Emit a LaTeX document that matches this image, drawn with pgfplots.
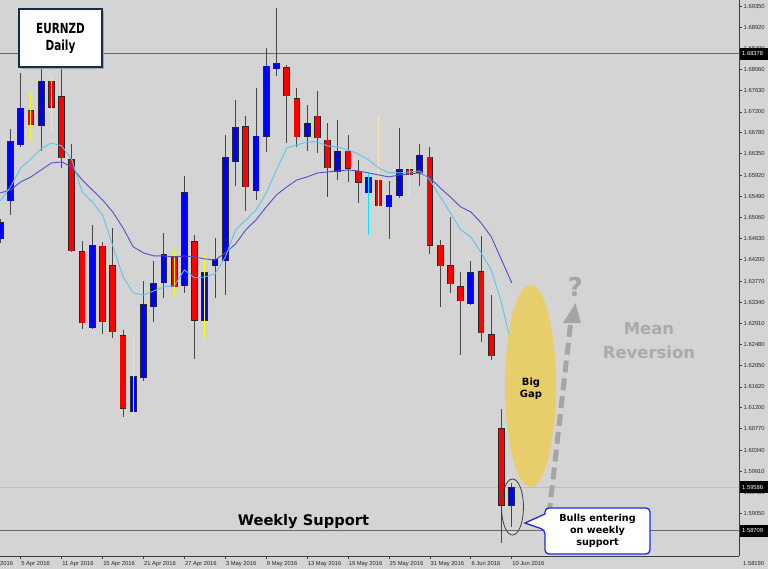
\documentclass[border=0pt]{standalone}
\usepackage{pgfplots}
\pgfplotsset{compat=1.18}
\usepackage{pgfplotstable}
\usepackage{fontspec}
\setmainfont{Liberation Sans}
\newfontfamily\annfont{DejaVu Sans}
\newfontfamily\titlefont[FakeStretch=0.75]{DejaVu Sans}

\definecolor{bg}{RGB}{212,212,212}
\definecolor{bullc}{RGB}{0,0,255}
\definecolor{bearc}{RGB}{255,0,0}
\definecolor{wickc}{RGB}{70,70,70}
\definecolor{bodyline}{RGB}{40,40,40}
\definecolor{cyanma}{RGB}{90,195,240}
\definecolor{bluema}{RGB}{80,80,210}
\definecolor{gapgold}{RGB}{232,206,106}
\definecolor{arrowgray}{RGB}{165,165,165}
\definecolor{meangray}{RGB}{170,170,170}
\definecolor{calloutblue}{RGB}{30,40,230}
\definecolor{navy}{RGB}{25,45,75}
\definecolor{lvldark}{RGB}{105,105,105}
\definecolor{lvllight}{RGB}{190,190,190}
\definecolor{axisc}{RGB}{60,60,60}
\definecolor{tickc}{RGB}{40,40,40}
\definecolor{peach}{RGB}{255,228,180}
\definecolor{yel}{RGB}{255,255,0}
\definecolor{cyw}{RGB}{0,235,255}

\newcommand\ticksz{\fontsize{5.8bp}{7bp}\selectfont}

% i open high low close
\pgfplotstableread{
i o h l c
0 1.64624 1.65030 1.64543 1.64949
1 1.65395 1.66855 1.65111 1.66592
2 1.66531 1.67991 1.66490 1.67281
4 1.66936 1.68154 1.66409 1.67829
9 1.62819 1.64908 1.62799 1.64482
13 1.61115 1.62657 1.61034 1.61825
14 1.61805 1.63772 1.61744 1.63285
15 1.63245 1.64178 1.62941 1.63711
16 1.63732 1.64746 1.63427 1.64300
18 1.63671 1.65902 1.63529 1.65557
20 1.62961 1.64300 1.62616 1.63935
21 1.64077 1.64644 1.63427 1.64218
22 1.64178 1.66734 1.63488 1.66267
23 1.66186 1.67444 1.65699 1.66876
25 1.65598 1.67687 1.65415 1.66713
26 1.66713 1.68498 1.66389 1.68133
27 1.68072 1.69310 1.67930 1.68174
30 1.66713 1.67342 1.66409 1.66977
33 1.66003 1.67038 1.65821 1.66409
36 1.65557 1.65963 1.64705 1.65861
38 1.65273 1.65801 1.64624 1.65496
39 1.65496 1.66876 1.65456 1.66024
41 1.65983 1.66551 1.65699 1.66328
46 1.63306 1.64178 1.63285 1.63935
50 1.59208 1.59675 1.58782 1.59586
}\bull

\pgfplotstableread{
i o h l c
3 1.67220 1.67586 1.66612 1.66936
5 1.67829 1.67951 1.66795 1.67302
6 1.67505 1.68072 1.66064 1.66267
7 1.66227 1.66551 1.64360 1.64381
8 1.64360 1.64584 1.62799 1.62920
10 1.64482 1.64563 1.62697 1.62941
11 1.64077 1.64847 1.62616 1.62738
12 1.62657 1.62778 1.61014 1.61176
17 1.64259 1.64401 1.63448 1.63651
19 1.64563 1.64705 1.62190 1.62961
24 1.66896 1.67119 1.65192 1.65679
28 1.68093 1.68154 1.66571 1.67525
29 1.67464 1.67687 1.66490 1.66693
31 1.67119 1.67626 1.66369 1.66673
32 1.66632 1.66977 1.65476 1.66064
34 1.66409 1.66734 1.65780 1.66064
35 1.66003 1.66227 1.65354 1.65780
37 1.65821 1.67119 1.65273 1.65294
40 1.66024 1.66267 1.65476 1.65922
42 1.66287 1.66490 1.64320 1.64502
43 1.64502 1.64604 1.63245 1.64077
44 1.64077 1.65070 1.63529 1.63711
45 1.63651 1.63955 1.62271 1.63366
47 1.63955 1.64685 1.62535 1.62717
48 1.62677 1.63488 1.62170 1.62251
49 1.60770 1.61176 1.58458 1.59208
}\bear

\pgfplotstableread{
i h l
3 1.67586 1.66612
5 1.67951 1.66795
13 1.62657 1.61034
17 1.64401 1.63448
20 1.64300 1.62616
40 1.66267 1.65476
}\yellowwicks

\pgfplotstableread{
i h l
36 1.65963 1.64705
}\cyanwicks

\pgfplotstableread{
i h l
37 1.67119 1.65273
}\peachwicks

% moving averages: f fast (cyan), s slow (blue)
\pgfplotstableread{
i f s
0 1.65395 1.65557
1 1.65679 1.65618
2 1.66064 1.65780
3 1.66247 1.65882
4 1.66450 1.66024
5 1.66571 1.66166
6 1.66510 1.66186
7 1.66227 1.66085
8 1.65578 1.65821
9 1.65375 1.65618
10 1.65111 1.65415
11 1.64482 1.65172
12 1.63853 1.64847
13 1.63529 1.64462
14 1.63488 1.64340
15 1.63569 1.64279
16 1.63651 1.64279
17 1.63671 1.64259
18 1.63995 1.64279
19 1.63833 1.64259
20 1.63853 1.64218
21 1.63914 1.64198
22 1.64259 1.64340
23 1.64807 1.64523
24 1.65010 1.64807
25 1.65212 1.65010
26 1.65557 1.65273
27 1.66024 1.65517
28 1.66470 1.65679
29 1.66531 1.65821
30 1.66592 1.65882
31 1.66592 1.65963
32 1.66510 1.65983
33 1.66490 1.66003
34 1.66429 1.66024
35 1.66348 1.66003
36 1.66227 1.65963
37 1.66064 1.65922
38 1.65963 1.65882
39 1.65963 1.65922
40 1.65983 1.65943
41 1.66003 1.65963
42 1.65821 1.65861
43 1.65476 1.65659
44 1.65152 1.65476
45 1.64807 1.65273
46 1.64665 1.65172
47 1.64340 1.64949
48 1.63995 1.64665
49 1.63326 1.64198
50 1.62434 1.63732
}\ma

\pgfplotsset{
  wickplot/.style={draw=none, mark=none, forget plot,
    error bars/.cd, y dir=both, y explicit, error mark=none,
    error bar style={draw=#1, solid, line width=1bp}},
  bodyplot/.style 2 args={draw=none, mark=none, forget plot,
    error bars/.cd, y dir=both, y explicit, error mark=none,
    error bar style={draw=#1, solid, line width=#2}},
}

\begin{document}
\begin{tikzpicture}
\fill[bg] (0,0) rectangle (768bp,-569bp);
\begin{axis}[at={(0,0)}, anchor=north west,
  width=739bp, height=556bp, scale only axis,
  xmin=-0.0244, xmax=72.21, ymin=1.58190, ymax=1.69472,
  axis x line*=bottom, axis y line*=right,
  axis line style={-, draw=axisc, line width=1bp},
  tick align=outside, major tick length=3bp,
  tick style={draw=axisc, line width=0.8bp},
  xtick={2,6,10,14,18,22,26,30,34,38,42,46,50},
  xticklabels={5 Apr 2016,11 Apr 2016,15 Apr 2016,21 Apr 2016,27 Apr 2016,3 May 2016,9 May 2016,13 May 2016,19 May 2016,25 May 2016,31 May 2016,6 Jun 2016,10 Jun 2016},
  ytick={1.69350,1.68920,1.68490,1.68060,1.67630,1.67200,1.66780,1.66350,1.65920,1.65490,1.65060,1.64630,1.64200,1.63770,1.63340,1.62910,1.62480,1.62050,1.61620,1.61200,1.60770,1.60340,1.59910,1.59480,1.59050,1.58620},
  yticklabels={1.69350,1.68920,1.68490,1.68060,1.67630,1.67200,1.66780,1.66350,1.65920,1.65490,1.65060,1.64630,1.64200,1.63770,1.63340,1.62910,1.62480,1.62050,1.61620,1.61200,1.60770,1.60340,1.59910,1.59480,1.59050,1.58620},
  ticklabel style={font=\ticksz, text=tickc, inner sep=0pt},
  xticklabel style={anchor=north west, xshift=0.5bp, yshift=-2.5bp},
  yticklabel style={anchor=west, xshift=1.5bp},
]
% price level lines
\addplot[lvldark, line width=1.1bp, forget plot] coordinates {(-1,1.68378) (80,1.68378)};
\addplot[lvllight, line width=0.8bp, forget plot] coordinates {(-1,1.59586) (80,1.59586)};
\addplot[lvldark, line width=1.1bp, forget plot] coordinates {(-1,1.58709) (80,1.58709)};
% wicks
\addplot[wickplot=wickc] table[x=i, y expr={(\thisrow{h}+\thisrow{l})/2}, y error expr={(\thisrow{h}-\thisrow{l})/2}]{\bull};
\addplot[wickplot=wickc] table[x=i, y expr={(\thisrow{h}+\thisrow{l})/2}, y error expr={(\thisrow{h}-\thisrow{l})/2}]{\bear};
% bodies: outline then fill
\addplot[bodyplot={bodyline}{6.8bp}] table[x=i, y expr={(\thisrow{o}+\thisrow{c})/2}, y error expr={abs(\thisrow{c}-\thisrow{o})/2+0.0001}]{\bull};
\addplot[bodyplot={bodyline}{6.8bp}] table[x=i, y expr={(\thisrow{o}+\thisrow{c})/2}, y error expr={abs(\thisrow{c}-\thisrow{o})/2+0.0001}]{\bear};
\addplot[bodyplot={bullc}{5.1bp}] table[x=i, y expr={(\thisrow{o}+\thisrow{c})/2}, y error expr={max(abs(\thisrow{c}-\thisrow{o})/2-0.00008,0)}]{\bull};
\addplot[bodyplot={bearc}{5.1bp}] table[x=i, y expr={(\thisrow{o}+\thisrow{c})/2}, y error expr={max(abs(\thisrow{c}-\thisrow{o})/2-0.00008,0)}]{\bear};
% coloured wicks
\addplot[wickplot=yel] table[x=i, y expr={(\thisrow{h}+\thisrow{l})/2}, y error expr={(\thisrow{h}-\thisrow{l})/2}]{\yellowwicks};
\addplot[wickplot=cyw] table[x=i, y expr={(\thisrow{h}+\thisrow{l})/2}, y error expr={(\thisrow{h}-\thisrow{l})/2}]{\cyanwicks};
\addplot[wickplot=peach] table[x=i, y expr={(\thisrow{h}+\thisrow{l})/2}, y error expr={(\thisrow{h}-\thisrow{l})/2}]{\peachwicks};
% moving averages
\addplot[bluema, line width=0.9bp, mark=none] table[x=i, y=s]{\ma};
\addplot[cyanma, line width=0.9bp, mark=none] table[x=i, y=f]{\ma};
\end{axis}

\begin{scope}[x=1bp, y=-1bp]
% partial first date label
\node[font=\ticksz, text=tickc, inner sep=0pt, anchor=north west] at (-19.7,561.5) {30 Mar 2016};
\node[font=\ticksz, text=tickc, inner sep=0pt, anchor=west] at (743,564) {1.58190};
% highlighted price boxes
\foreach \yy/\lab in {53.9/1.68378, 487.4/1.59586, 530.6/1.58709}{
  \fill[black] (739.5,\yy-6) rectangle (768,\yy+6);
  \node[font=\ticksz, text=white, inner sep=0pt, anchor=west] at (742,\yy) {\lab};
}
% title box
\fill[black!35] (21.3,11.3) rectangle (103.7,68.7);
\filldraw[fill=white, draw=navy, line width=1.8] (19.3,9.3) rectangle (101.7,66.7);
\node[font=\titlefont\bfseries\fontsize{14}{16}\selectfont, inner sep=0pt] at (60.5,28.8) {EURNZD};
\node[font=\titlefont\bfseries\fontsize{14}{16}\selectfont, inner sep=0pt] at (60.5,46.5) {Daily};
% big gap ellipse
\fill[gapgold] (530.5,386) ellipse [x radius=25.5, y radius=101];
\node[font=\annfont\bfseries\fontsize{10}{12}\selectfont, align=center, inner sep=0pt] at (531,389) {Big\\Gap};
% dashed arrow
\draw[arrowgray, line width=5, dash pattern=on 12 off 6] (549,515) -- (570.5,324);
\fill[arrowgray] (563,323) -- (575.5,303) -- (581,323) -- cycle;
\node[font=\annfont\bfseries\fontsize{26}{30}\selectfont, text=arrowgray, inner sep=0pt] at (575.5,287) {?};
% mean reversion
\node[font=\annfont\bfseries\fontsize{16.5}{24}\selectfont, text=meangray, align=center, inner sep=0pt] at (649,341) {Mean\\Reversion};
% weekly support
\node[font=\annfont\bfseries\fontsize{14.7}{17}\selectfont, inner sep=0pt] at (303.5,521.5) {Weekly Support};
% small ellipse
\draw[black!75, line width=0.8] (512.5,507) ellipse [x radius=11, y radius=28];
% callout
\filldraw[fill=white, draw=calloutblue, line width=1.3, rounded corners=4] (545,508) -- (650,508) -- (650,554) -- (545,554) -- (545,530) [sharp corners] -- (525,523) -- (545,514) [rounded corners=4] -- cycle;
\node[font=\annfont\bfseries\fontsize{9.7}{12}\selectfont, align=center, inner sep=0pt] at (597.5,530.5) {Bulls entering\\on weekly\\support};
\end{scope}
\pgfresetboundingbox
\path (0,0) rectangle (768bp,-569bp);
\end{tikzpicture}
\end{document}
